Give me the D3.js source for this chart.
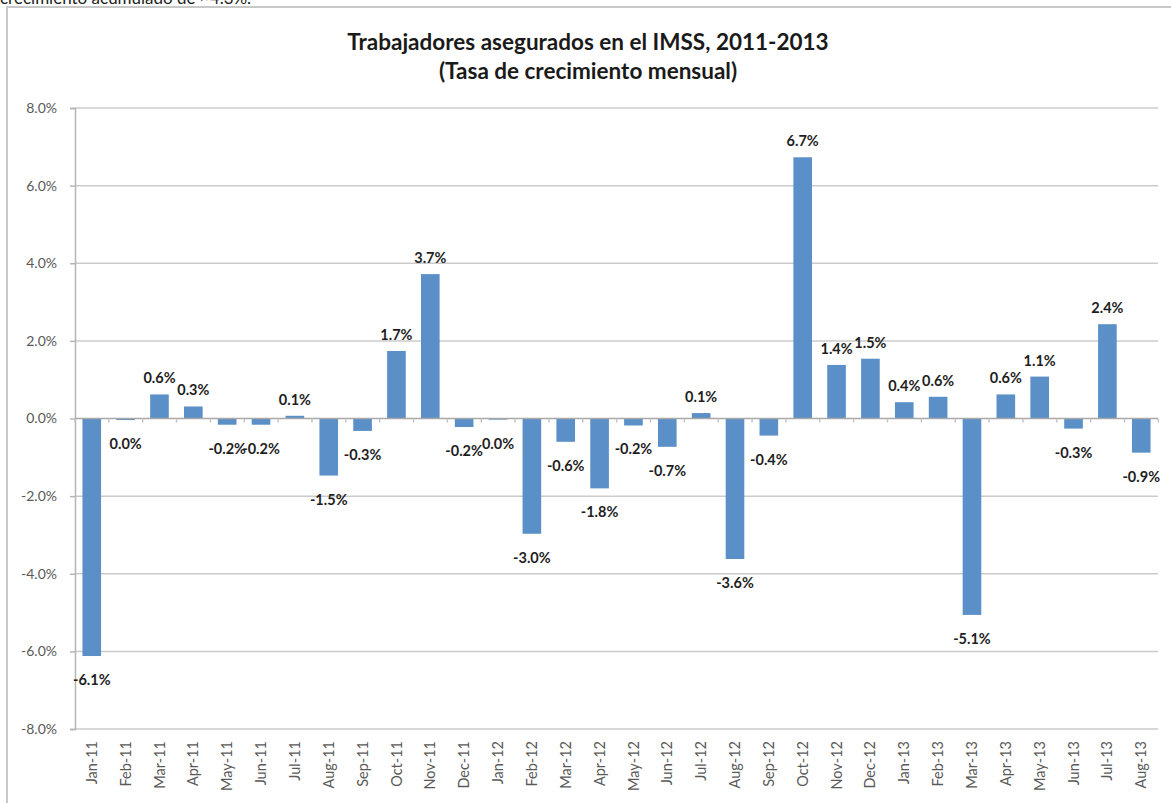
<!DOCTYPE html>
<html>
<head>
<meta charset="utf-8">
<script src="https://cdn.jsdelivr.net/npm/d3@7"></script>
<style>
  body { margin: 0; background: #fff; }
  svg text { font-family: Lato, "Open Sans", sans-serif; }
</style>
</head>
<body>
<svg id="chart" width="1171" height="803"></svg>
<script>
// monthly growth rate of IMSS insured workers (%)
let months = ["Jan-11","Feb-11","Mar-11","Apr-11","May-11","Jun-11","Jul-11","Aug-11","Sep-11","Oct-11","Nov-11","Dec-11",
              "Jan-12","Feb-12","Mar-12","Apr-12","May-12","Jun-12","Jul-12","Aug-12","Sep-12","Oct-12","Nov-12","Dec-12",
              "Jan-13","Feb-13","Mar-13","Apr-13","May-13","Jun-13","Jul-13","Aug-13"];
let rates = [-6.12, -0.04, 0.62, 0.31, -0.16, -0.16, 0.07, -1.47, -0.32, 1.74, 3.72, -0.22,
             -0.03, -2.97, -0.6, -1.8, -0.18, -0.73, 0.14, -3.62, -0.44, 6.73, 1.38, 1.54,
             0.42, 0.56, -5.06, 0.62, 1.08, -0.26, 2.43, -0.88];
let yTicks = [-8, -6, -4, -2, 0, 2, 4, 6, 8];
let titleLines = ["Trabajadores asegurados en el IMSS, 2011-2013", "(Tasa de crecimiento mensual)"];

let svg = d3.select("#chart");
let plotL = 75, plotR = 1158, plotT = 108, plotB = 729;

// text cut off above the chart frame
svg.append("text")
   .attr("x", 0).attr("y", 4)
   .attr("font-size", 17)
   .attr("fill", "#222")
   .text("crecimiento acumulado de ~4.3%.");

// chart frame (only top and left edges are in view)
svg.append("path")
   .attr("d", "M7,803 L7,7 L1171,7")
   .attr("fill", "none")
   .attr("stroke", "#c8c8c8")
   .attr("stroke-width", 2);

let x = d3.scaleBand().domain(months).range([plotL, plotR]).paddingInner(0.45).paddingOuter(0.22);
let y = d3.scaleLinear().domain([-8, 8]).range([plotB, plotT]);

// gridlines
svg.append("g").selectAll("line")
   .data(yTicks.filter(d => d != 0))
   .enter().append("line")
   .attr("x1", plotL).attr("x2", plotR)
   .attr("y1", d => y(d)).attr("y2", d => y(d))
   .attr("stroke", "#cbcbcb")
   .attr("stroke-width", 1.5);

// y axis
let yAxis = svg.append("g")
   .attr("transform", "translate(" + plotL + ",0)")
   .call(d3.axisLeft(y).tickValues(yTicks).tickSize(5).tickPadding(13)
         .tickFormat(d => d.toFixed(1) + "%"));
yAxis.select(".domain").attr("stroke", "#b5b5b5").attr("stroke-width", 1.5);
yAxis.selectAll(".tick line").attr("stroke", "#b5b5b5").attr("stroke-width", 1.5);
yAxis.selectAll(".tick text")
   .attr("font-size", 14)
   .attr("font-family", "Lato, sans-serif")
   .attr("fill", "#595959");

// bars
svg.append("g").selectAll("rect")
   .data(rates)
   .enter().append("rect")
   .attr("x", (d, i) => x(months[i]))
   .attr("width", x.bandwidth())
   .attr("y", d => y(Math.max(0, d)))
   .attr("height", d => Math.abs(y(d) - y(0)))
   .attr("fill", "#5b8fc7");

// zero line with category ticks
svg.append("line")
   .attr("x1", plotL).attr("x2", plotR)
   .attr("y1", y(0)).attr("y2", y(0))
   .attr("stroke", "#a8a8a8")
   .attr("stroke-width", 1.5);
let step = x.step();
svg.append("g").selectAll("line")
   .data(d3.range(months.length + 1))
   .enter().append("line")
   .attr("x1", i => plotL + i * step).attr("x2", i => plotL + i * step)
   .attr("y1", y(0)).attr("y2", y(0) + 4)
   .attr("stroke", "#c4c4c4")
   .attr("stroke-width", 1.5);

// category labels along the bottom
svg.append("g").selectAll("text")
   .data(months)
   .enter().append("text")
   .attr("transform", d => "translate(" + (x(d) + x.bandwidth() / 2) + "," + (plotB + 12) + ") rotate(-90)")
   .attr("text-anchor", "end")
   .attr("dy", "0.35em")
   .attr("font-size", 14.5)
   .attr("fill", "#595959")
   .text(d => d);

// value labels
svg.append("g").selectAll("text")
   .data(rates)
   .enter().append("text")
   .attr("x", (d, i) => x(months[i]) + x.bandwidth() / 2)
   .attr("y", d => d >= 0 ? y(d) - 11 : y(d) + 29)
   .attr("text-anchor", "middle")
   .attr("font-size", 14.5)
   .attr("font-weight", "bold")
   .attr("fill", "#1e1e1e")
   .text(d => (Math.abs(d) < 0.05 ? "0.0" : d.toFixed(1)) + "%");

// title
svg.append("g").selectAll("text")
   .data(titleLines)
   .enter().append("text")
   .attr("x", 588)
   .attr("y", (d, i) => 50 + i * 29)
   .attr("text-anchor", "middle")
   .attr("font-size", 22.5)
   .attr("font-weight", "bold")
   .attr("fill", "#1a1a1a")
   .text(d => d);
</script>
</body>
</html>
